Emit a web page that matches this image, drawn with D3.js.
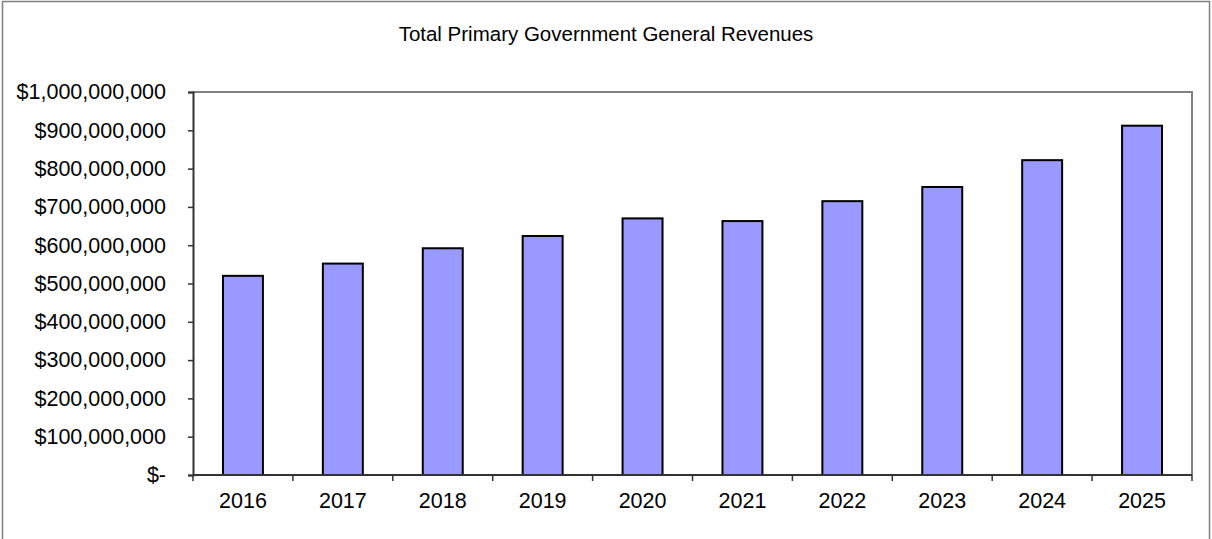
<!DOCTYPE html>
<html><head><meta charset="utf-8">
<script src="https://cdn.jsdelivr.net/npm/d3@7"></script>
<style>
body{margin:0;background:#fff;}
text{font-family:"Liberation Sans",Arial,sans-serif;}
</style></head>
<body>
<svg id="chart" width="1212" height="539"></svg>
<script>
const years = ["2016","2017","2018","2019","2020","2021","2022","2023","2024","2025"];
const revenues = [520000000,552000000,592000000,624000000,670000000,663000000,715000000,752000000,822000000,912000000];
const yTicks = [0,100000000,200000000,300000000,400000000,500000000,600000000,700000000,800000000,900000000,1000000000];
const title = "Total Primary Government General Revenues";

const svg = d3.select("#chart");
const W = 1212, H = 539;
const m = {left:193, right:1192, top:92, bottom:475};
const FS = 21.5;

svg.append("rect").attr("x",2.5).attr("y",1.5).attr("width",W-5).attr("height",H+5)
  .attr("fill","#fff").attr("stroke","#808080").attr("stroke-width",1.5);

const x = d3.scaleBand().domain(years).range([m.left,m.right]).paddingInner(0.6).paddingOuter(0.3);
const y = d3.scaleLinear().domain([0,1000000000]).range([m.bottom,m.top]);

svg.append("path").attr("d",`M${m.left},${m.top}H${m.right}V${m.bottom}`)
  .attr("fill","none").attr("stroke","#808080").attr("stroke-width",2);

svg.append("text").attr("x",606).attr("y",41).attr("text-anchor","middle")
  .style("font-size","20.5px").attr("fill","#000").text(title);

svg.append("g").selectAll("rect").data(years).join("rect")
  .attr("x",d=>x(d)).attr("width",x.bandwidth())
  .attr("y",(d,i)=>y(revenues[i])).attr("height",(d,i)=>y(0)-y(revenues[i]))
  .attr("fill","#9999FF").attr("stroke","#000").attr("stroke-width",2);

const fmt = v => v===0 ? "$-" : "$" + d3.format(",")(v);
const yAxis = d3.axisLeft(y).tickValues(yTicks).tickSize(5).tickPadding(22).tickFormat(fmt);
const gy = svg.append("g").attr("transform",`translate(${m.left},0)`).call(yAxis);
gy.attr("font-size",null).attr("font-family",null);
gy.select(".domain").attr("stroke","#333").attr("stroke-width",2);
gy.selectAll(".tick line").attr("stroke","#333").attr("stroke-width",1.5);
gy.selectAll(".tick text").style("font-size",FS+"px").attr("fill","#000")
  .style("font-family","'Liberation Sans',Arial,sans-serif");

const gx = svg.append("g").attr("transform",`translate(0,${m.bottom})`);
gx.append("line").attr("x1",m.left).attr("x2",m.right).attr("stroke","#333").attr("stroke-width",2);
const step = x.step();
const bounds = years.map(d=>x(d)+x.bandwidth()/2-step/2).concat([m.right]);
gx.selectAll(".b").data(bounds).join("line").attr("class","b")
  .attr("x1",d=>d).attr("x2",d=>d).attr("y1",0).attr("y2",6)
  .attr("stroke","#333").attr("stroke-width",1.5);
gx.selectAll(".lbl").data(years).join("text").attr("class","lbl")
  .attr("x",d=>x(d)+x.bandwidth()/2).attr("y",33).attr("text-anchor","middle")
  .style("font-size",FS+"px").attr("fill","#000").text(d=>d);
</script>
</body></html>
